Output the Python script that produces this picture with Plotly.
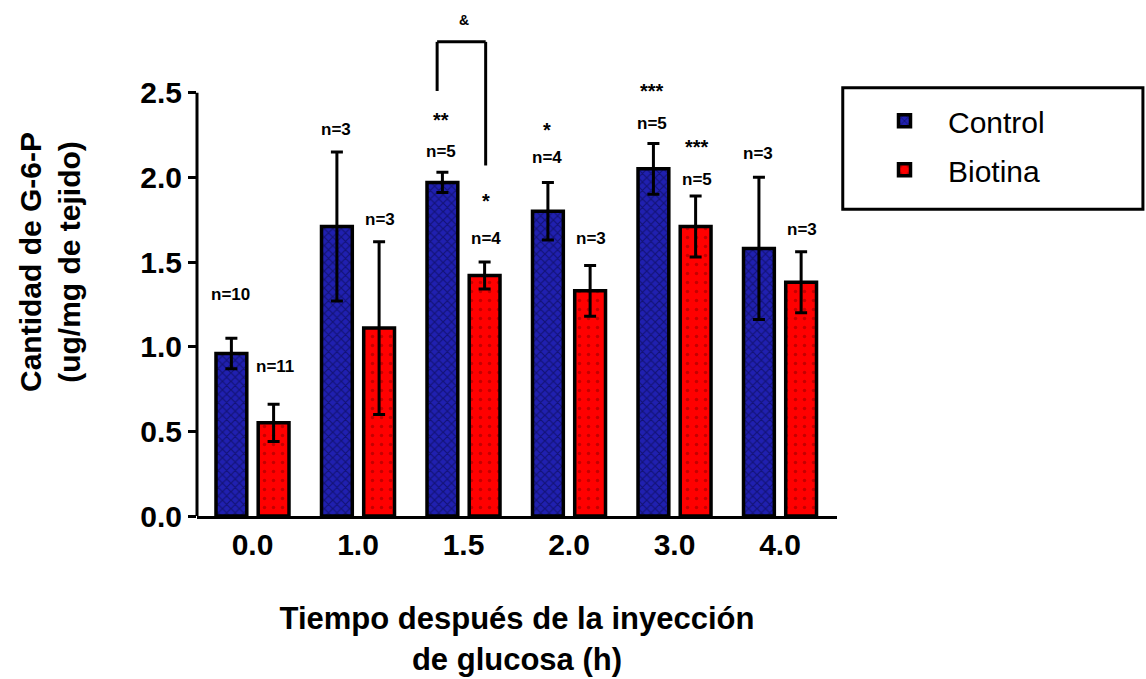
import plotly.graph_objects as go

# ---- data ----
categories = ["0.0", "1.0", "1.5", "2.0", "3.0", "4.0"]
control_mean = [0.96, 1.71, 1.97, 1.80, 2.05, 1.58]
control_err = [0.09, 0.44, 0.06, 0.17, 0.15, 0.42]
biotina_mean = [0.55, 1.11, 1.42, 1.33, 1.71, 1.38]
biotina_err = [0.11, 0.51, 0.08, 0.15, 0.18, 0.18]

# labels: (group index, series side -1 control / +1 biotina, y, text)
n_labels = [
    (0, -1, 1.31, "n=10"), (0, 1, 0.88, "n=11"),
    (1, -1, 2.28, "n=3"), (1, 1, 1.75, "n=3"),
    (2, -1, 2.15, "n=5"), (2, 1, 1.64, "n=4"),
    (3, -1, 2.12, "n=4"), (3, 1, 1.64, "n=3"),
    (4, -1, 2.32, "n=5"), (4, 1, 1.99, "n=5"),
    (5, -1, 2.14, "n=3"), (5, 1, 1.69, "n=3"),
]
sig_labels = [
    (2, -1, 2.34, "**"), (2, 1, 1.86, "*"),
    (3, -1, 2.28, "*"),
    (4, -1, 2.51, "***"), (4, 1, 2.18, "***"),
]

xpos = list(range(len(categories)))
FONT = "Liberation Sans, Arial, sans-serif"

fig = go.Figure()
fig.add_trace(go.Bar(
    name="Control", x=xpos, y=control_mean, legendgroup="c",
    error_y=dict(type="data", array=control_err, color="black", thickness=3, width=6),
    marker=dict(color="#1f1fa8", line=dict(color="black", width=3.5),
                pattern=dict(shape="x", fgcolor="#05053a", bgcolor="#2020b0", size=6, solidity=0.35)),
))
fig.add_trace(go.Bar(
    name="Biotina", x=xpos, y=biotina_mean, legendgroup="b",
    error_y=dict(type="data", array=biotina_err, color="black", thickness=3, width=6),
    marker=dict(color="#ff0000", line=dict(color="black", width=3.5),
                pattern=dict(shape=".", fgcolor="#8a0000", bgcolor="#ff0000", size=9, solidity=0.12)),
))

off = 0.21
for g, side, yv, txt in n_labels:
    fig.add_annotation(x=g + side * off, y=yv, text=txt, showarrow=False,
                       font=dict(family=FONT, size=17, color="black", weight="bold"))
for g, side, yv, txt in sig_labels:
    fig.add_annotation(x=g + side * off, y=yv, text=txt, showarrow=False,
                       font=dict(family=FONT, size=20, color="black", weight="bold"))

fig.add_annotation(x=2, y=2.93, text="&amp;", showarrow=False,
                   font=dict(family=FONT, size=14, color="black", weight="bold"))

# significance bracket
bx0, bx1 = 2 - 0.25, 2 + 0.21
fig.add_shape(type="line", x0=bx0, x1=bx0, y0=2.51, y1=2.80, line=dict(color="black", width=3))
fig.add_shape(type="line", x0=bx0, x1=bx1, y0=2.80, y1=2.80, line=dict(color="black", width=3))
fig.add_shape(type="line", x0=bx1, x1=bx1, y0=2.80, y1=2.07, line=dict(color="black", width=3))

# y axis line only up to 2.5
fig.add_shape(type="line", xref="paper", x0=0, x1=0, y0=0, y1=2.5, line=dict(color="black", width=3))

# legend frame
fig.add_shape(type="rect", xref="paper", yref="paper", x0=1.009, x1=1.478, y0=0.604, y1=0.843,
              line=dict(color="black", width=3), fillcolor="rgba(0,0,0,0)")

fig.update_layout(
    width=1146, height=679,
    margin=dict(l=197, r=309, t=8, b=161),
    paper_bgcolor="white", plot_bgcolor="white",
    barmode="group", bargap=0.2, bargroupgap=0.27,
    font=dict(family=FONT, color="black"),
    showlegend=True,
    legend=dict(x=1.0375, y=0.829, xanchor="left", yanchor="top",
                borderwidth=0, bgcolor="rgba(0,0,0,0)",
                font=dict(family=FONT, size=30, color="black"),
                itemwidth=77, tracegroupgap=7),
    xaxis=dict(range=[-0.526, 5.54], tickmode="array", tickvals=xpos, ticktext=categories,
               showline=True, linecolor="black", linewidth=3, ticks="", showgrid=False,
               zeroline=False,
               tickfont=dict(family=FONT, size=30, color="black", weight="bold"),
               title=dict(text="Tiempo después de la inyección<br>de glucosa (h)",
                          font=dict(family=FONT, size=31, color="black", weight="bold"),
                          standoff=48)),
    yaxis=dict(range=[0, 3.0], tickmode="array", tickvals=[0, 0.5, 1.0, 1.5, 2.0, 2.5],
               ticktext=["0.0", "0.5", "1.0", "1.5", "2.0", "2.5"],
               showline=False, ticks="outside", ticklen=8, tickwidth=3, tickcolor="black",
               showgrid=False, zeroline=False,
               tickfont=dict(family=FONT, size=30, color="black", weight="bold"),
               title=dict(text="Cantidad de G-6-P<br>(ug/mg de tejido)",
                          font=dict(family=FONT, size=30, color="black", weight="bold"),
                          standoff=50)),
)

fig.write_html("out.html", post_script="document.body.style.margin='0';",
               config={"displayModeBar": False})
